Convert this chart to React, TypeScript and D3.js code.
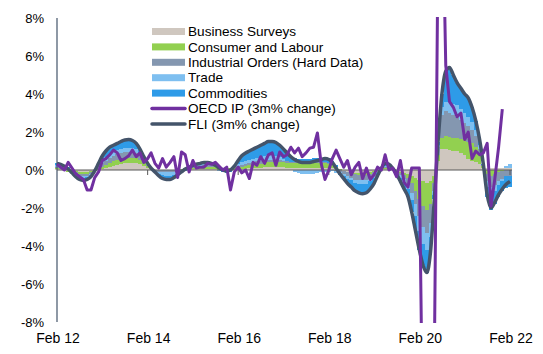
import React, { useEffect, useRef } from "react";
import * as d3 from "d3";

// monthly categories, Feb 12 .. Feb 22
const months = d3.timeMonth.range(new Date(2012, 1, 1), new Date(2022, 2, 1));
const tickLabels = ["Feb 12", "Feb 14", "Feb 16", "Feb 18", "Feb 20", "Feb 22"];
const tickDates = [2012, 2014, 2016, 2018, 2020, 2022].map((y) => new Date(y, 1, 1));
const yTicks = [-8, -6, -4, -2, 0, 2, 4, 6, 8];

const seriesNames = [
  "Business Surveys",
  "Consumer and Labour",
  "Industrial Orders (Hard Data)",
  "Trade",
  "Commodities",
];

// contributions, % (stacked bars)
const businessSurveys = [
  0.05, 0.05, 0.0, -0.05, -0.05, -0.05, -0.1, -0.1, -0.1, -0.05, 0.0,
  0.0, 0.05, 0.1, 0.15, 0.2, 0.25, 0.3, 0.35, 0.35, 0.35, 0.35, 0.3, 0.2, 0.1, 0.05,
  0, 0, 0, 0, 0, 0, 0, 0, 0.05,
  0.05, 0.05, 0.05, 0.05, 0.05, 0.05, 0.05, 0.05, 0, 0, 0, 0, 0,
  0.05, 0.05, 0.05, 0.1, 0.1, 0.1, 0.1, 0.15, 0.15, 0.15, 0.15, 0.15, 0.15, 0.1, 0.1, 0.1, 0.1, 0.1, 0.1, 0.1, 0.1, 0.1, 0.1, 0.1, 0.1,
  0.1, 0.05, 0.0, -0.05, -0.1, -0.1, -0.15, -0.15, -0.15, -0.15, -0.1, -0.05, 0.0, 0.05,
  0.05, 0.05, 0.0, -0.05, -0.1, -0.15, -0.2, -0.3, -0.4, -0.5, -0.6, -0.7, -0.6, -0.3,
  0.5, 1.1, 1.1, 1.05, 1.0, 1.0, 0.9, 0.8, 0.6, 0.5, 0.4, 0.3, 0.1,
  0.1, 0.1, 0.1, 0.1, 0.1, 0.1, 0.1,
];
const consumerLabour = [
  0.05, 0.0, 0.0, -0.05, -0.05, -0.05, -0.1, -0.1, -0.1, -0.05, 0.0,
  0.05, 0.1, 0.15, 0.2, 0.25, 0.3, 0.3, 0.3, 0.3, 0.3, 0.3, 0.25, 0.15, 0.1, 0.05,
  0, 0, 0, 0, 0, 0, 0, 0.05, 0.05,
  0.05, 0.05, 0.1, 0.1, 0.1, 0.1, 0.1, 0.1, 0.1, 0.1, 0.1, 0.1, 0.1,
  0.1, 0.1, 0.15, 0.15, 0.15, 0.2, 0.2, 0.2, 0.25, 0.25, 0.25, 0.25, 0.25, 0.25, 0.25, 0.25, 0.25, 0.25, 0.25, 0.25, 0.25, 0.25, 0.25, 0.25, 0.2,
  0.15, 0.1, 0.05, 0.0, 0.0, -0.05, -0.05, -0.1, -0.1, -0.1, -0.1, -0.05, 0.0, 0.05,
  0.05, 0.05, 0.0, 0.0, -0.05, -0.1, -0.2, -0.4, -0.7, -1.0, -1.3, -1.4, -1.2, -0.4,
  0.3, 0.6, 0.7, 0.7, 0.7, 0.7, 0.75, 0.8, 0.9, 0.9, 0.8, 0.5, 0.1,
  -0.2, -0.3, -0.2, -0.1, -0.05, 0.0, 0.0,
];
const industrialOrders = [
  0.05, 0.05, 0.05, 0.0, -0.05, -0.1, -0.1, -0.1, -0.1, -0.1, -0.05,
  0.1, 0.2, 0.25, 0.3, 0.3, 0.3, 0.3, 0.3, 0.3, 0.3, 0.25, 0.2, 0.15, 0.05, 0.0,
  -0.05, -0.1, -0.1, -0.1, -0.1, -0.1, -0.05, -0.05, 0.0,
  0.0, 0.05, 0.05, 0.05, 0.1, 0.1, 0.1, 0.05, 0.05, 0.0, 0.0, 0.0, 0.05,
  0.05, 0.1, 0.1, 0.1, 0.15, 0.15, 0.15, 0.15, 0.15, 0.15, 0.15, 0.15, 0.1, 0.1, 0.05, 0.05, 0.05, 0.05, 0.05, 0.05, 0.05, 0.05, 0.05, 0.05, 0.05,
  0.0, -0.05, -0.1, -0.15, -0.2, -0.25, -0.3, -0.3, -0.3, -0.3, -0.25, -0.2, -0.1, 0.0,
  0.05, 0.05, 0.05, 0.0, -0.1, -0.2, -0.3, -0.5, -0.7, -0.9, -1.1, -1.2, -1.0, -0.4,
  0.4, 1.2, 1.3, 1.25, 1.2, 1.1, 1.0, 0.9, 0.8, 0.7, 0.6, 0.3, 0.05,
  -0.4, -0.6, -0.6, -0.5, -0.4, -0.3, -0.3,
];
const trade = [
  0.1, 0.1, 0.1, 0.05, 0.0, -0.05, -0.1, -0.1, -0.05, -0.05, 0.0,
  0.1, 0.15, 0.2, 0.2, 0.2, 0.2, 0.2, 0.2, 0.2, 0.2, 0.2, 0.15, 0.1, 0.05, 0.0,
  0.0, -0.1, -0.15, -0.2, -0.2, -0.15, -0.1, -0.05, 0.0,
  0.0, 0.05, 0.05, 0.05, 0.05, 0.05, 0.05, 0.0, -0.05, -0.05, -0.1, -0.05, 0.0,
  0.1, 0.15, 0.2, 0.2, 0.2, 0.2, 0.25, 0.25, 0.25, 0.25, 0.2, 0.15, 0.1, 0.05, 0.0, -0.1, -0.15, -0.2, -0.2, -0.2, -0.2, -0.15, -0.1, -0.1, -0.1,
  -0.05, -0.1, -0.1, -0.1, -0.15, -0.15, -0.2, -0.2, -0.2, -0.2, -0.15, -0.1, -0.05, 0.0,
  0.05, 0.05, 0.0, -0.05, -0.15, -0.2, -0.3, -0.4, -0.6, -0.8, -0.9, -0.9, -0.7, -0.2,
  0.1, 0.4, 0.5, 0.6, 0.6, 0.6, 0.55, 0.5, 0.5, 0.45, 0.3, 0.2, 0.0,
  -0.3, -0.4, -0.3, -0.2, -0.15, 0.1, 0.2,
];
const commodities = [
  0.1, 0.1, 0.05, 0.1, 0.0, -0.1, -0.1, -0.15, -0.15, -0.1, 0.0,
  0.1, 0.25, 0.3, 0.35, 0.35, 0.35, 0.4, 0.43, 0.45, 0.4, 0.3, 0.2, 0.1, 0.05, 0.0,
  -0.05, -0.1, -0.2, -0.2, -0.2, -0.15, -0.1, -0.05, -0.05,
  0.05, 0.05, 0.05, 0.1, 0.1, 0.1, 0.05, 0.05, 0.0, -0.05, -0.05, -0.05, 0.05,
  0.2, 0.35, 0.4, 0.45, 0.5, 0.55, 0.6, 0.65, 0.7, 0.7, 0.7, 0.6, 0.5, 0.4, 0.3, 0.25, 0.2, 0.2, 0.2, 0.2, 0.25, 0.25, 0.25, 0.3, 0.3,
  0.2, 0.1, -0.05, -0.15, -0.25, -0.35, -0.4, -0.45, -0.5, -0.45, -0.4, -0.3, -0.15, 0.0,
  0.15, 0.1, 0.05, -0.1, -0.2, -0.35, -0.4, -0.6, -0.8, -1.0, -1.1, -1.2, -0.8, -0.2,
  0.2, 0.7, 1.6, 1.8, 1.5, 1.2, 1.1, 1.0, 1.0, 0.75, 0.5, 0.3, 0.05,
  -0.5, -0.8, -0.7, -0.6, -0.5, -0.65, -0.6,
];

// OECD IP, 3m% change (ends Dec 21)
const oecdIP = [
  0.3, 0.15, 0.0, 0.4, 0.1, -0.2, -0.35, -0.5, -1.05, -1.05, -0.4,
  -0.1, 0.5, 0.6, 0.8, 1.05, 0.9, 0.5, 0.6, 0.75, 1.05,
  0.7, 0.9, 0.4, 0.6, 0.9, 0.35, 0.1, 0.6, 0.15, 0.4,
  0.7, -0.4, 0.95, 0.8, -0.1, 0.5, 0.1, 0.15, 0.15, 0.35,
  0.3, 0.4, 0.2, 0.0, 0.15, -1.05, -0.1, 0.15, -0.15, 0.0,
  -0.45, 0.4, 0.25, 0.7, 0.35, 0.8, 0.9, 0.25, 0.95, 0.7,
  0.8, 1.2, 0.9, 1.15, 0.7, 0.9, 1.15, 1.2, 1.95, 0.35,
  -0.5, 0.0, 0.6, 1.05, 0.6, 0.15, 0.5, -0.25, 0.15, 0.4,
  -0.45, 0.1, -0.5, -0.25, 0.15, 0.0, 0.8, 0.0, 0.1, -0.35,
  0.5, -0.65, -0.9, 0.1, 0.1, 0.1, -15, -20, -18, -10,
  12, 16, 5.5, 3.6, 3.3, 2.8, 3.0, 1.6, 2.0, 0.6,
  1.0, 0.8, 0.9, 1.4, -1.9, -0.5, 1.2, 3.2,
];

// FLI, 3m% change
const fli = [
  0.35, 0.3, 0.2, 0.05, -0.15, -0.35, -0.5, -0.55, -0.5, -0.35, -0.05,
  0.35, 0.75, 1.0, 1.2, 1.3, 1.4, 1.5, 1.58, 1.6, 1.55, 1.4, 1.1, 0.7, 0.35, 0.1,
  -0.1, -0.3, -0.45, -0.5, -0.5, -0.4, -0.25, -0.1, 0.05,
  0.15, 0.25, 0.3, 0.35, 0.4, 0.4, 0.35, 0.25, 0.1, 0.0, -0.05, 0.0, 0.2,
  0.5, 0.75, 0.9, 1.0, 1.1, 1.2, 1.3, 1.4, 1.5, 1.5, 1.45, 1.3, 1.1, 0.9, 0.7, 0.55, 0.45, 0.4, 0.4, 0.4, 0.45, 0.5, 0.55, 0.6, 0.55,
  0.4, 0.1, -0.2, -0.45, -0.7, -0.9, -1.1, -1.2, -1.25, -1.2, -1.0, -0.7, -0.3, 0.1,
  0.35, 0.3, 0.1, -0.2, -0.6, -1.0, -1.4, -2.2, -3.2, -4.2, -5.0, -5.4, -4.3, -1.5,
  1.5, 4.0, 5.2, 5.4, 5.0, 4.6, 4.3, 4.0, 3.8, 3.3, 2.6, 1.6, 0.3,
  -1.3, -2.0, -1.7, -1.3, -1.0, -0.75, -0.6,
];

const barColors = ["#CFC7BF", "#92D050", "#8497B0", "#7EBFF0", "#2E9BE8"];
const ipColor = "#7030A0";
const fliColor = "#44546A";

const App = () => {
  const svgRef = useRef(null);
  const width = 543;
  const height = 354;

  useEffect(() => {
    const svg = d3.select(svgRef.current);
    svg.selectAll("*").remove();

    const x = d3
      .scaleTime()
      .domain([months[0], months[months.length - 1]])
      .range([57, 510]);
    const y = d3.scaleLinear().domain([-8, 8]).range([322, 18]);
    const bw = x(months[1]) - x(months[0]);

    // bar edges halfway between neighbouring months, so bars touch exactly
    const edges = months.map((m, i) =>
      i === 0 ? x(m) - bw / 2 : (x(months[i - 1]) + x(m)) / 2
    );
    edges.push(x(months[months.length - 1]) + bw / 2);
    const px = edges.map((e) => Math.round(e));

    const rows = months.map((m, i) => ({
      idx: i,
      bs: businessSurveys[i],
      cl: consumerLabour[i],
      io: industrialOrders[i],
      tr: trade[i],
      cm: commodities[i],
    }));
    const keys = ["bs", "cl", "io", "tr", "cm"];
    const stacked = d3.stack().keys(keys).offset(d3.stackOffsetDiverging)(rows);

    svg
      .append("defs")
      .append("clipPath")
      .attr("id", "plotClip")
      .append("rect")
      .attr("x", 50)
      .attr("y", 17)
      .attr("width", 480)
      .attr("height", 306);

    // stacked bars
    const top = (d) => Math.round(y(Math.max(d[0], d[1])));
    const bottom = (d) => Math.round(y(Math.min(d[0], d[1])));
    stacked.forEach((layer, k) => {
      svg
        .append("g")
        .attr("fill", barColors[k])
        .attr("shape-rendering", "crispEdges")
        .selectAll("rect")
        .data(layer.filter((d) => d[0] !== d[1]))
        .enter()
        .append("rect")
        .attr("x", (d) => px[d.data.idx])
        .attr("width", (d) => px[d.data.idx + 1] - px[d.data.idx])
        .attr("y", top)
        .attr("height", (d) => bottom(d) - top(d));
    });

    // y axis
    svg
      .append("line")
      .attr("x1", 57)
      .attr("x2", 57)
      .attr("y1", y(8))
      .attr("y2", y(-8))
      .attr("stroke", "#44546A")
      .attr("stroke-width", 1.2);

    svg
      .append("g")
      .selectAll("text")
      .data(yTicks)
      .enter()
      .append("text")
      .attr("x", 44)
      .attr("y", (d) => y(d))
      .attr("dy", "0.35em")
      .attr("text-anchor", "end")
      .attr("font-family", "Liberation Sans, Arial, sans-serif")
      .attr("font-size", 13)
      .attr("fill", "#000")
      .text((d) => `${d}%`);

    // zero line and ticks
    svg
      .append("line")
      .attr("x1", 57)
      .attr("x2", 512)
      .attr("y1", y(0))
      .attr("y2", y(0))
      .attr("stroke", "#595959")
      .attr("stroke-width", 1);

    svg
      .append("g")
      .selectAll("line")
      .data(tickDates.slice(1))
      .enter()
      .append("line")
      .attr("x1", (d) => x(d))
      .attr("x2", (d) => x(d))
      .attr("y1", y(0))
      .attr("y2", y(0) + 5)
      .attr("stroke", "#595959");

    svg
      .append("g")
      .selectAll("text")
      .data(tickDates)
      .enter()
      .append("text")
      .attr("x", (d) => x(d) + 1)
      .attr("y", 343)
      .attr("text-anchor", "middle")
      .attr("font-family", "Liberation Sans, Arial, sans-serif")
      .attr("font-size", 14)
      .attr("fill", "#000")
      .text((d, i) => tickLabels[i]);

    // lines
    const fliLine = d3
      .line()
      .x((d, i) => x(months[i]))
      .y((d) => y(d))
      .curve(d3.curveMonotoneX);
    svg
      .append("path")
      .datum(fli)
      .attr("d", fliLine)
      .attr("fill", "none")
      .attr("stroke", fliColor)
      .attr("stroke-width", 3.5)
      .attr("stroke-linejoin", "round");

    const ipLine = d3
      .line()
      .x((d, i) => x(months[i]))
      .y((d) => y(d));
    svg
      .append("path")
      .datum(oecdIP)
      .attr("d", ipLine)
      .attr("clip-path", "url(#plotClip)")
      .attr("fill", "none")
      .attr("stroke", ipColor)
      .attr("stroke-width", 3)
      .attr("stroke-linejoin", "round");

    // legend
    const legend = svg
      .append("g")
      .attr("font-family", "Liberation Sans, Arial, sans-serif")
      .attr("font-size", 13.6);
    const rowY = (i) => 31.5 + i * 15.4;
    seriesNames.forEach((name, i) => {
      legend
        .append("rect")
        .attr("x", 152)
        .attr("y", rowY(i) - 3.5)
        .attr("width", 33)
        .attr("height", 7)
        .attr("fill", barColors[i]);
      legend.append("text").attr("x", 188).attr("y", rowY(i)).attr("dy", "0.35em").text(name);
    });
    [
      ["OECD IP (3m% change)", ipColor],
      ["FLI (3m% change)", fliColor],
    ].forEach(([name, color], j) => {
      const i = 5 + j;
      legend
        .append("line")
        .attr("x1", 152)
        .attr("x2", 185)
        .attr("y1", rowY(i))
        .attr("y2", rowY(i))
        .attr("stroke", color)
        .attr("stroke-width", 3.5)
        .attr("stroke-linecap", "round");
      legend.append("text").attr("x", 188).attr("y", rowY(i)).attr("dy", "0.35em").text(name);
    });
  }, []);

  return (
    <svg
      ref={svgRef}
      width={width}
      height={height}
      style={{ position: "absolute", left: 0, top: 0, background: "#fff" }}
    ></svg>
  );
};

export default App;
